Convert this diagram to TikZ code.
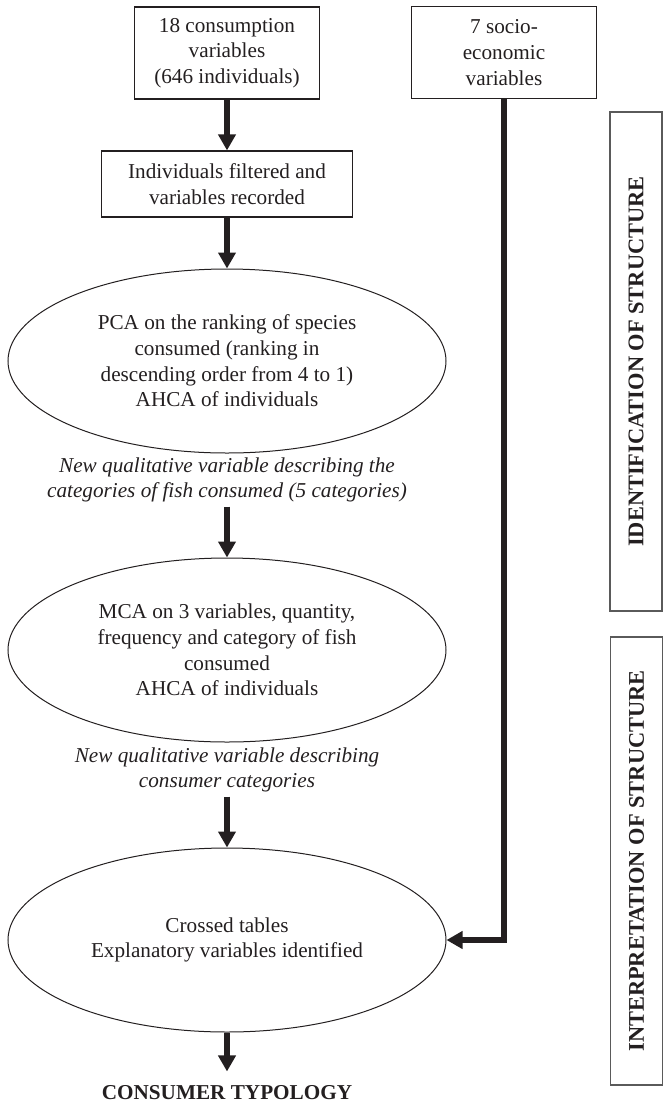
\documentclass[tikz,border=0pt]{standalone}
\usepackage{fontspec}
\setmainfont{Liberation Serif}
\usetikzlibrary{positioning, shapes.geometric, arrows.meta}

\definecolor{ink}{HTML}{231F20}
\definecolor{frame}{HTML}{5A5A5A}

\begin{document}
\begin{tikzpicture}[x=0.5pt, y=-0.5pt,
    every node/.style={font=\fontsize{10.6}{12.8}\selectfont, text=ink, align=center},
    box/.style={draw=ink, line width=0.6pt, minimum width=92.5pt, minimum height=46pt, inner sep=2pt},
    oval/.style={draw=ink, line width=0.5pt, ellipse, minimum width=219pt, minimum height=92pt, inner sep=0pt},
    note/.style={font=\fontsize{10.6}{12.5}\selectfont\itshape, inner sep=2pt},
    phase/.style={draw=frame, line width=0.8pt, rotate=90, minimum height=26pt, font=\fontsize{11.2}{13}\selectfont\bfseries},
    flow/.style={line width=3pt, draw=ink, -{Triangle[length=8pt, width=8.5pt]}}]
    \useasboundingbox (0,0) rectangle (666,1105);

    % Input boxes
    \node[box] (cons) at (227,53) {18 consumption\\variables\\(646 individuals)};
    \node[box] (socio) at (504,52.5) {7 socio-\\economic\\variables};
    \node[box, minimum width=125.5pt, minimum height=33pt] (filt) at (227,184) {Individuals filtered and\\variables recorded};

    % Analyses
    \node[oval] (pca) at (227,361) {PCA on the ranking of species\\consumed (ranking in\\descending order from 4 to 1)\\AHCA of individuals};
    \node[note] (new1) at (227,480) {New qualitative variable describing the\\categories of fish consumed (5 categories)};
    \node[oval] (mca) at (227,650) {MCA on 3 variables, quantity,\\frequency and category of fish\\consumed\\AHCA of individuals};
    \node[note] (new2) at (227,770) {New qualitative variable describing\\consumer categories};
    \node[oval] (cross) at (227,940) {Crossed tables\\Explanatory variables identified};
    \node[font=\fontsize{10.6}{12.8}\selectfont\bfseries, inner ysep=7pt] (typo) at (227,1093) {CONSUMER TYPOLOGY};

    % Phases on the right
    \node[phase, minimum width=249.5pt] (ident) at (636,361.5) {IDENTIFICATION OF STRUCTURE};
    \node[phase, minimum width=224pt] (interp) at (636.5,861) {INTERPRETATION OF STRUCTURE};

    % Arrows
    \foreach \a/\b in {cons/filt, filt/pca, new1/mca, new2/cross, cross/typo}
      \draw[flow] (\a.south) -- (\b.north);
    \draw[flow] (socio.south) |- (cross.east);
\end{tikzpicture}
\end{document}
